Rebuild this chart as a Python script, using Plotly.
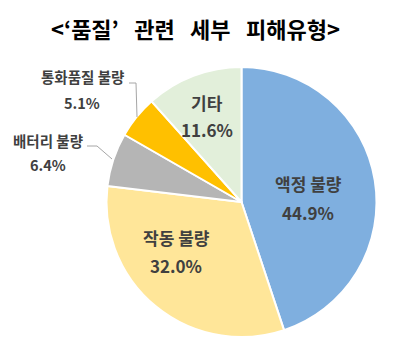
import plotly.graph_objects as go

labels = ["액정 불량", "작동 불량", "배터리 불량", "통화품질 불량", "기타"]
values = [44.9, 32.0, 6.4, 5.1, 11.6]
colors = ["#7FAFDF", "#FFE699", "#B5B5B5", "#FFC000", "#E2EFDA"]
title_text = "<‘품질’\u2002\u2009관련\u2002\u2009세부\u2002\u2009피해유형>"

W, H = 408, 353

def px(x):
    return x / W

def py(y):
    return 1 - y / H

fig = go.Figure(go.Pie(
    labels=labels, values=values, sort=False, direction="clockwise", rotation=0,
    marker=dict(colors=colors, line=dict(color="white", width=2)),
    textinfo="none", hoverinfo="label+percent", showlegend=False,
    domain=dict(x=[px(106), px(377)], y=[py(337), py(67)]),
))

FONT = "Noto Sans CJK KR"
TXT = "#404040"

# label placement (pixel positions of label line / percent line)
label_pos = {
    "액정 불량": (308, 183, 212, 17),
    "작동 불량": (176, 237, 265, 17),
    "기타": (207, 102, 129, 17),
    "배터리 불량": (48, 140, 164, 14.5),
    "통화품질 불량": (82, 77, 103, 14.5),
}
anns = []
for lab, val in zip(labels, values):
    x, y1, y2, fs = label_pos[lab]
    anns.append(dict(x=px(x), y=py(y1), xref="paper", yref="paper", text=f"<b>{lab}</b>",
                     xanchor="center", yanchor="middle",
                     showarrow=False, font=dict(family=FONT, size=fs, color=TXT)))
    anns.append(dict(x=px(x), y=py(y2), xref="paper", yref="paper", text=f"<b>{val:.1f}%</b>",
                     xanchor="center", yanchor="middle",
                     showarrow=False, font=dict(family=FONT, size=fs, color=TXT)))

anns.append(dict(x=px(195), y=py(28), xref="paper", yref="paper", text=f"<b>{title_text}</b>",
                 xanchor="center", yanchor="middle",
                 showarrow=False, font=dict(family=FONT, size=22, color="black")))

shapes = [
    dict(type="path", xref="paper", yref="paper",
         path=f"M {px(129)},{py(83)} L {px(136)},{py(83)} L {px(137)},{py(117)}",
         line=dict(color="#A6A6A6", width=1)),
    dict(type="path", xref="paper", yref="paper",
         path=f"M {px(87)},{py(146)} L {px(97)},{py(146)} L {px(112)},{py(159)}",
         line=dict(color="#A6A6A6", width=1)),
]

fig.update_layout(width=W, height=H, margin=dict(l=0, r=0, t=0, b=0),
                  paper_bgcolor="white", plot_bgcolor="white",
                  annotations=anns, shapes=shapes)
fig.write_html("out.html")
